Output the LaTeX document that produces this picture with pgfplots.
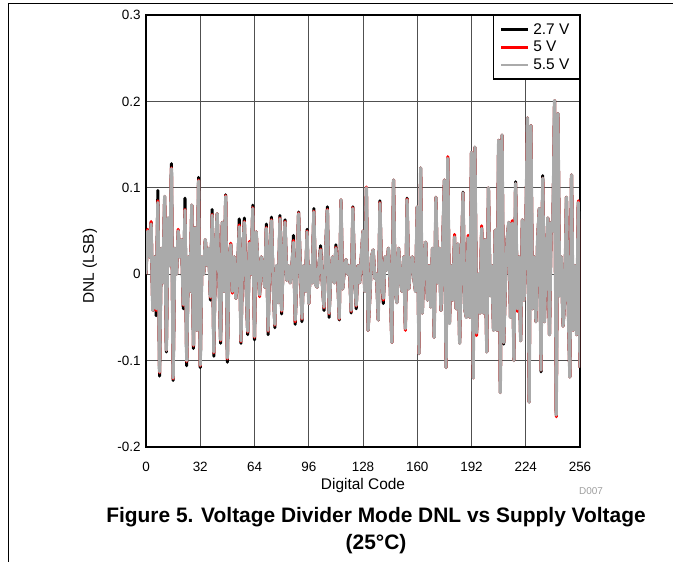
\documentclass[border=0pt]{standalone}
\usepackage{pgfplots}
\usepackage{pgfplotstable}
\usepackage{fontspec}
\setmainfont{Liberation Sans}
\pgfplotsset{compat=1.18}

\definecolor{dnlgray}{RGB}{170,170,170}
\definecolor{gridc}{RGB}{80,80,80}

% code, 2.7 V, 5 V, 5.5 V
\pgfplotstableread{
x k r g
0 0.000 0.000 0.000
1 0.050 0.052 0.050
2 0.020 0.020 0.020
3 0.060 0.061 0.058
4 -0.042 -0.042 -0.042
5 0.020 0.020 0.020
6 -0.048 -0.042 -0.040
7 0.097 0.085 0.083
8 -0.118 -0.114 -0.113
9 0.030 0.030 0.030
10 -0.010 -0.010 -0.010
11 0.090 0.090 0.090
12 -0.090 -0.088 -0.088
13 0.065 0.065 0.065
14 0.010 0.010 0.010
15 0.128 0.123 0.122
16 -0.123 -0.121 -0.120
17 0.030 0.030 0.030
18 0.000 0.000 0.000
19 0.050 0.052 0.050
20 0.020 0.020 0.020
21 0.040 0.040 0.040
22 -0.040 -0.036 -0.035
23 0.088 0.075 0.074
24 -0.106 -0.101 -0.100
25 0.020 0.020 0.020
26 -0.020 -0.020 -0.020
27 0.080 0.080 0.080
28 -0.086 -0.083 -0.082
29 0.054 0.054 0.054
30 -0.065 -0.065 -0.065
31 0.112 0.109 0.108
32 -0.108 -0.106 -0.105
33 0.020 0.020 0.020
34 0.000 0.000 0.000
35 0.040 0.040 0.040
36 0.010 0.010 0.010
37 0.030 0.030 0.030
38 -0.030 -0.027 -0.026
39 0.075 0.069 0.068
40 -0.095 -0.091 -0.090
41 0.030 0.030 0.030
42 0.070 0.070 0.070
43 0.000 0.000 0.000
44 -0.080 -0.077 -0.076
45 0.060 0.060 0.060
46 -0.020 -0.020 -0.020
47 0.092 0.091 0.090
48 -0.102 -0.098 -0.097
49 0.020 0.020 0.020
50 0.034 0.036 0.034
51 -0.020 -0.022 -0.020
52 0.020 0.020 0.020
53 -0.028 -0.028 -0.028
54 0.000 0.000 0.000
55 0.064 0.057 0.055
56 -0.080 -0.078 -0.077
57 0.020 0.020 0.020
58 0.065 0.061 0.060
59 -0.010 -0.010 -0.010
60 -0.070 -0.067 -0.066
61 0.036 0.038 0.036
62 0.000 0.000 0.000
63 0.080 0.077 0.076
64 -0.076 -0.073 -0.072
65 0.049 0.049 0.049
66 0.010 0.010 0.010
67 -0.024 -0.026 -0.024
68 0.020 0.020 0.020
69 0.010 0.010 0.010
70 -0.015 -0.015 -0.015
71 0.058 0.054 0.053
72 -0.070 -0.066 -0.065
73 0.020 0.020 0.020
74 0.066 0.063 0.062
75 -0.010 -0.010 -0.010
76 -0.062 -0.059 -0.058
77 0.010 0.010 0.010
78 -0.033 -0.033 -0.033
79 0.068 0.065 0.064
80 -0.046 -0.043 -0.042
81 0.020 0.020 0.020
82 0.063 0.061 0.060
83 -0.007 -0.007 -0.007
84 0.010 0.010 0.010
85 -0.010 -0.010 -0.010
86 0.005 0.005 0.005
87 0.045 0.039 0.037
88 -0.058 -0.055 -0.053
89 0.000 0.000 0.000
90 0.072 0.071 0.070
91 0.010 0.010 0.010
92 -0.055 -0.052 -0.051
93 0.010 0.010 0.010
94 -0.020 -0.020 -0.020
95 0.052 0.050 0.049
96 -0.034 -0.034 -0.034
97 0.010 0.010 0.010
98 -0.010 -0.010 -0.010
99 0.076 0.073 0.072
100 -0.012 -0.012 -0.012
101 -0.015 -0.015 -0.015
102 0.010 0.010 0.010
103 0.033 0.029 0.028
104 -0.010 -0.010 -0.010
105 -0.042 -0.039 -0.038
106 0.030 0.030 0.030
107 0.078 0.075 0.074
108 -0.050 -0.046 -0.045
109 0.000 0.000 0.000
110 0.020 0.020 0.020
111 -0.010 -0.010 -0.010
112 0.034 0.031 0.030
113 0.000 0.000 0.000
114 -0.053 -0.052 -0.051
115 0.086 0.086 0.086
116 -0.017 -0.017 -0.017
117 0.005 0.005 0.005
118 0.017 0.017 0.017
119 0.000 0.000 0.000
120 0.010 0.010 0.010
121 -0.045 -0.043 -0.042
122 0.078 0.077 0.076
123 0.000 0.000 0.000
124 -0.040 -0.037 -0.036
125 0.010 0.010 0.010
126 -0.010 -0.010 -0.010
127 0.020 0.020 0.020
128 0.050 0.050 0.050
129 -0.020 -0.020 -0.020
130 0.100 0.101 0.100
131 -0.065 -0.065 -0.065
132 -0.028 -0.028 -0.028
133 0.020 0.020 0.020
134 0.028 0.028 0.028
135 -0.005 -0.005 -0.005
136 0.000 0.000 0.000
137 -0.053 -0.053 -0.053
138 0.085 0.083 0.082
139 -0.010 -0.010 -0.010
140 -0.034 -0.030 -0.028
141 0.020 0.020 0.020
142 0.005 0.005 0.005
143 0.030 0.030 0.030
144 -0.010 -0.010 -0.010
145 -0.079 -0.079 -0.079
146 0.109 0.109 0.109
147 -0.020 -0.020 -0.020
148 -0.033 -0.033 -0.033
149 0.030 0.030 0.030
150 -0.005 -0.005 -0.005
151 -0.020 -0.020 -0.020
152 0.020 0.020 0.020
153 -0.063 -0.065 -0.063
154 0.088 0.087 0.086
155 -0.017 -0.017 -0.017
156 0.010 0.010 0.010
157 0.020 0.020 0.020
158 -0.005 -0.005 -0.005
159 -0.020 -0.020 -0.020
160 0.078 0.078 0.078
161 -0.092 -0.092 -0.092
162 0.123 0.123 0.123
163 -0.045 -0.045 -0.045
164 0.020 0.020 0.020
165 0.037 0.037 0.037
166 -0.030 -0.030 -0.030
167 0.010 0.010 0.010
168 -0.038 -0.038 -0.038
169 0.030 0.030 0.030
170 -0.073 -0.073 -0.073
171 0.089 0.089 0.089
172 -0.010 -0.010 -0.010
173 0.030 0.030 0.030
174 -0.042 -0.042 -0.042
175 0.030 0.030 0.030
176 0.109 0.109 0.109
177 -0.108 -0.108 -0.108
178 0.134 0.136 0.134
179 -0.057 -0.057 -0.057
180 0.010 0.010 0.010
181 -0.030 -0.030 -0.030
182 0.043 0.046 0.043
183 -0.040 -0.040 -0.040
184 0.035 0.035 0.035
185 -0.080 -0.080 -0.080
186 0.010 0.010 0.010
187 0.095 0.094 0.094
188 -0.040 -0.040 -0.040
189 -0.050 -0.050 -0.050
190 0.042 0.045 0.042
191 -0.050 -0.050 -0.050
192 0.141 0.141 0.141
193 -0.120 -0.120 -0.120
194 0.147 0.147 0.147
195 -0.068 -0.071 -0.068
196 0.000 0.000 0.000
197 -0.045 -0.045 -0.045
198 0.053 0.056 0.053
199 -0.045 -0.045 -0.045
200 0.040 0.040 0.040
201 -0.090 -0.090 -0.090
202 0.100 0.100 0.100
203 -0.025 -0.025 -0.025
204 0.010 0.010 0.010
205 -0.065 -0.065 -0.065
206 0.051 0.051 0.051
207 -0.065 -0.065 -0.065
208 0.155 0.155 0.155
209 -0.137 -0.137 -0.137
210 0.161 0.161 0.161
211 -0.081 -0.079 -0.079
212 -0.010 -0.010 -0.010
213 0.040 0.040 0.040
214 0.060 0.060 0.060
215 -0.050 -0.050 -0.050
216 0.059 0.062 0.059
217 -0.100 -0.100 -0.100
218 0.107 0.105 0.105
219 -0.040 -0.043 -0.040
220 0.020 0.020 0.020
221 -0.077 -0.077 -0.077
222 0.063 0.063 0.063
223 -0.030 -0.030 -0.030
224 0.040 0.040 0.040
225 0.181 0.181 0.181
226 -0.148 -0.148 -0.148
227 0.172 0.172 0.172
228 -0.040 -0.040 -0.040
229 0.020 0.020 0.020
230 -0.055 -0.055 -0.055
231 0.040 0.040 0.040
232 0.076 0.076 0.076
233 -0.113 -0.111 -0.111
234 0.114 0.111 0.111
235 -0.055 -0.055 -0.055
236 0.010 0.010 0.010
237 0.065 0.065 0.065
238 -0.070 -0.070 -0.070
239 0.060 0.060 0.060
240 0.050 0.050 0.050
241 0.201 0.201 0.201
242 -0.163 -0.165 -0.163
243 0.186 0.186 0.186
244 -0.025 -0.025 -0.025
245 0.020 0.020 0.020
246 -0.060 -0.060 -0.060
247 -0.030 -0.030 -0.030
248 0.089 0.089 0.089
249 -0.030 -0.030 -0.030
250 -0.119 -0.119 -0.119
251 0.115 0.115 0.115
252 -0.065 -0.065 -0.065
253 0.010 0.010 0.010
254 -0.070 -0.070 -0.070
255 0.083 0.085 0.083
256 -0.108 -0.108 -0.108
}\dnl

\begin{document}
\begin{tikzpicture}
\path[use as bounding box] (0bp,0bp) rectangle (673bp,562bp);
% page frame
\draw[line width=1bp] (8bp,0bp) -- (8bp,558bp) -- (673bp,558bp);

\begin{axis}[
    at={(146bp,115bp)}, anchor=south west,
    scale only axis,
    width=434bp, height=432bp,
    xmin=0, xmax=256, ymin=-0.2, ymax=0.3,
    xtick={0,32,...,256},
    xticklabels={0,32,64,96,128,160,192,224,256},
    ytick={-0.2,-0.1,0,0.1,0.2,0.3},
    yticklabels={-0.2,-0.1,0,0.1,0.2,0.3},
    major tick length=0pt,
    tick label style={font=\fontsize{13.5}{15}\selectfont},
    xticklabel style={yshift=-12bp},
    yticklabel style={xshift=-2bp},
    grid=major,
    major grid style={gridc, line width=0.9bp},
    axis line style={line width=2bp},
    xlabel={Digital Code},
    xlabel style={font=\fontsize{15.5}{17}\selectfont, yshift=1bp},
    legend style={at={(1,1)}, anchor=north east, draw=black,
        line width=1.2bp, font=\fontsize{15.5}{17}\selectfont,
        inner xsep=6bp, inner ysep=6bp, row sep=1.5bp, cells={anchor=west},
        nodes={inner xsep=4bp}},
    legend image code/.code={\draw[#1, line width=2.5bp] (0bp,0bp) -- (27bp,0bp);},
    clip=true,
]
\addplot[black, line width=3bp, line join=round] table[x=x, y=k] {\dnl};
\addplot[red, line width=3bp, line join=round] table[x=x, y=r] {\dnl};
\addplot[dnlgray, line width=3.2bp, line join=round] table[x=x, y=g] {\dnl};
\legend{2.7 V, 5 V, 5.5 V}
\end{axis}

\node[rotate=90, font=\fontsize{15.5}{17}\selectfont] at (90bp,296bp) {DNL (LSB)};
\node[text=black!38, font=\fontsize{10}{12}\selectfont] at (591bp,71bp) {D007};
\node[font=\bfseries\fontsize{21}{24}\selectfont] at (376bp,45bp) {Figure 5. Voltage Divider Mode DNL vs Supply Voltage};
\node[font=\bfseries\fontsize{21}{24}\selectfont] at (376bp,18bp) {(25°C)};
\end{tikzpicture}
\end{document}
